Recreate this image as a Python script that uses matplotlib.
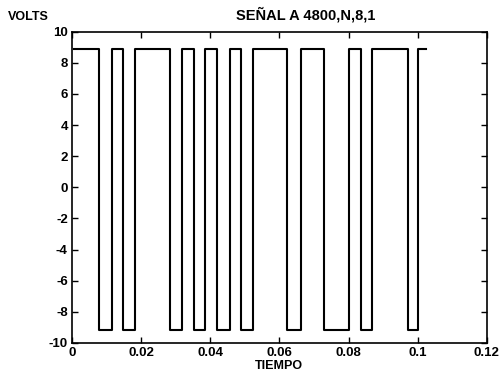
import matplotlib
matplotlib.use('Agg')
import matplotlib.pyplot as plt
import numpy as np

# niveles de la señal y tiempos de cada flanco
high, low = 8.9, -9.2
t_start, t_end = 0.0005, 0.1023
edges = [0.0079, 0.0115, 0.0149, 0.0183, 0.0284, 0.0318, 0.0352, 0.0386,
         0.0419, 0.0456, 0.0490, 0.0524, 0.0622, 0.0661, 0.0728, 0.0801,
         0.0835, 0.0869, 0.0972, 0.1002]
xticks = [0, 0.02, 0.04, 0.06, 0.08, 0.1, 0.12]
xticklabels = ['0', '0.02', '0.04', '0.06', '0.08', '0.1', '0.12']
yticks = [-10, -8, -6, -4, -2, 0, 2, 4, 6, 8, 10]

# construir la forma de onda cuadrada
t = [t_start]
v = [high]
level = high
for e in edges:
    t.append(e); v.append(level)
    level = low if level == high else high
    t.append(e); v.append(level)
t.append(t_end); v.append(level)

plt.rcParams['font.family'] = ['Liberation Sans', 'DejaVu Sans']
plt.rcParams['font.weight'] = 'bold'
plt.rcParams['axes.unicode_minus'] = False

fig = plt.figure(figsize=(5.03, 3.78), dpi=100)
ax = fig.add_axes([0.143, 0.093, 0.825, 0.823])
ax.plot(t, v, color='black', linewidth=1.5)

ax.set_xlim(0, 0.12)
ax.set_ylim(-10, 10)
ax.set_xticks(xticks)
ax.set_xticklabels(xticklabels)
ax.set_yticks(yticks)
ax.tick_params(direction='in', length=4, width=1, labelsize=9.5,
               top=True, right=True, pad=3)
for s in ax.spines.values():
    s.set_linewidth(1.2)

ax.set_xlabel('TIEMPO', fontsize=9, fontweight='bold', labelpad=1)
fig.text(0.016, 0.955, 'VOLTS', fontsize=9, fontweight='bold', ha='left', va='center')
fig.text(0.607, 0.962, 'SEÑAL A 4800,N,8,1', fontsize=10.5, fontweight='bold',
         ha='center', va='center')

plt.savefig('out.png', dpi=100)
